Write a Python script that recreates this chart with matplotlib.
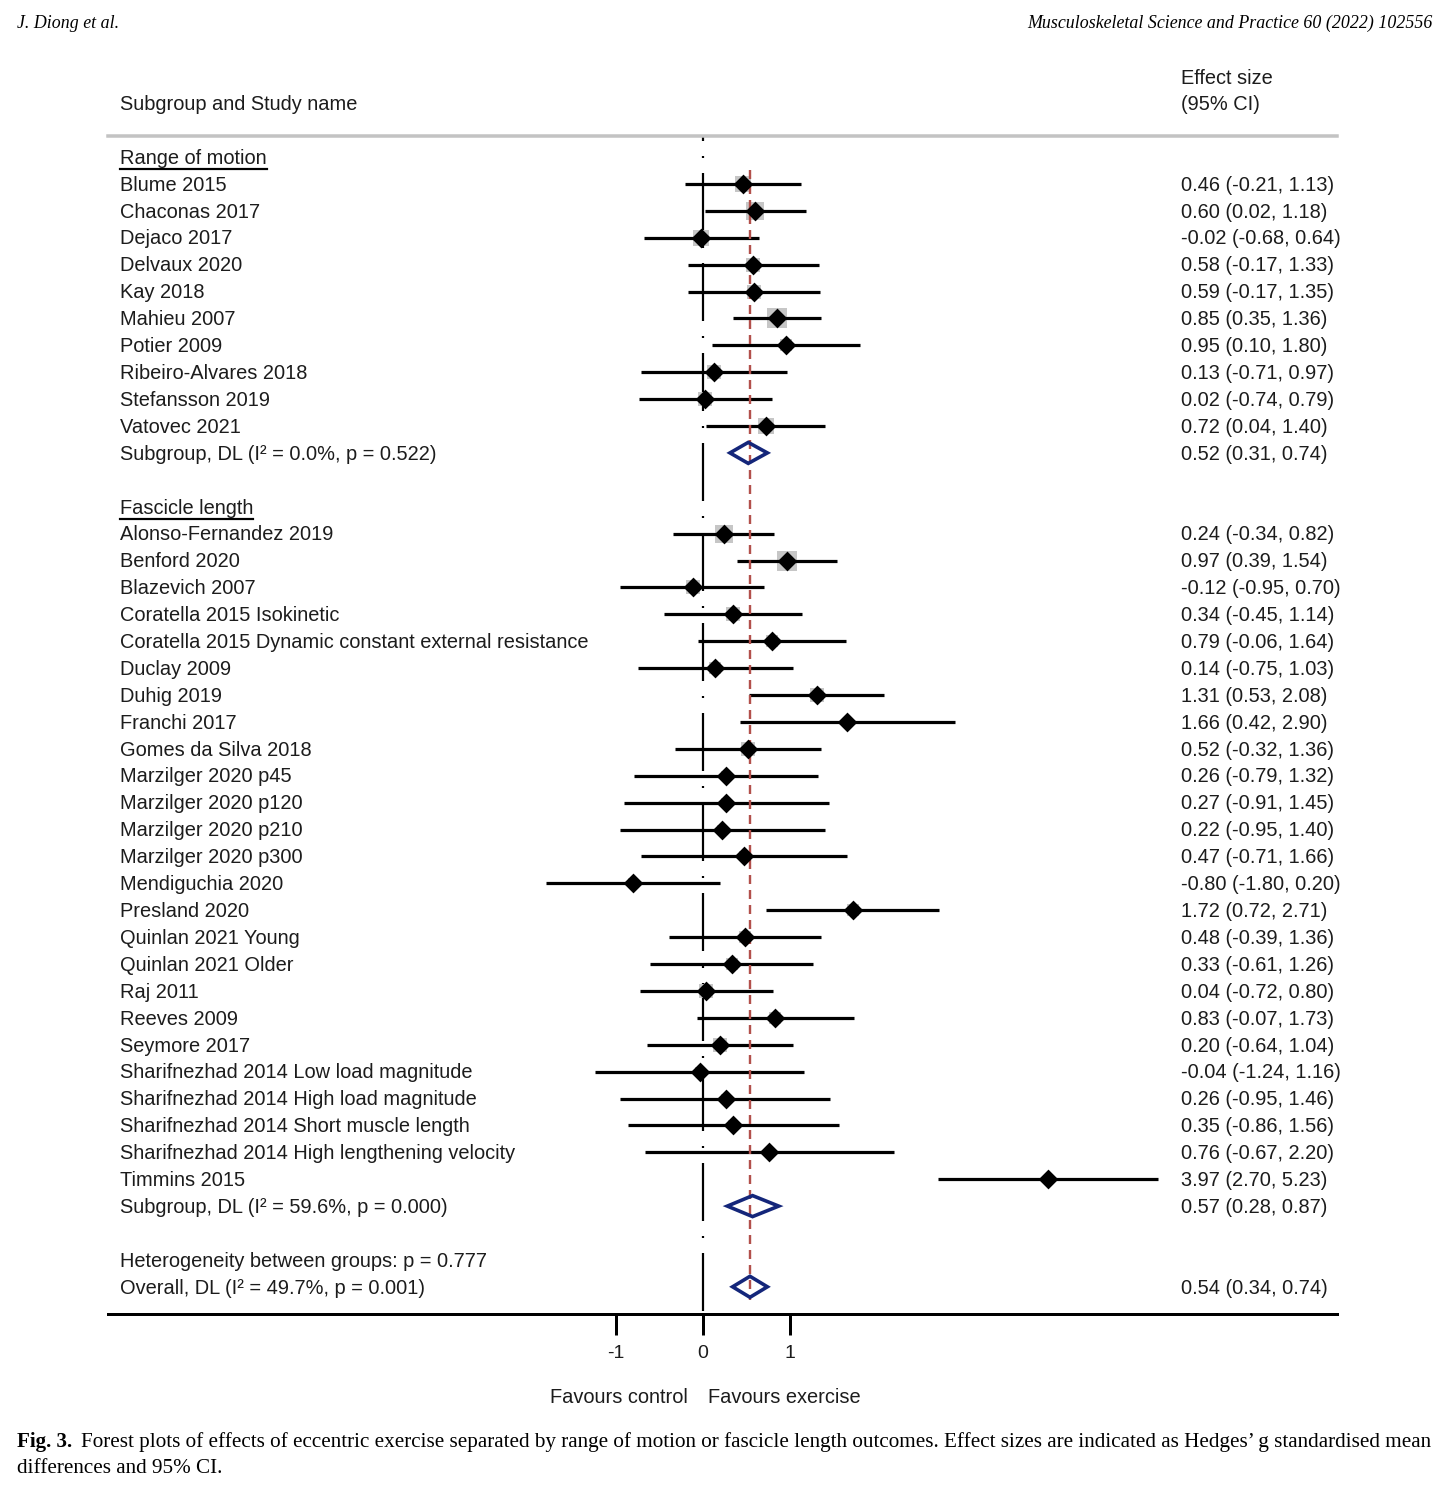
import matplotlib
matplotlib.use("Agg")
import matplotlib.pyplot as plt
import matplotlib.transforms as mtransforms
from matplotlib.patches import Polygon
from matplotlib.lines import Line2D

plt.rcParams['lines.scale_dashes'] = False
plt.rcParams['font.family'] = ['Liberation Sans', 'DejaVu Sans']

# ---------------- data ----------------
rom_names = ["Blume 2015", "Chaconas 2017", "Dejaco 2017", "Delvaux 2020", "Kay 2018",
             "Mahieu 2007", "Potier 2009", "Ribeiro-Alvares 2018", "Stefansson 2019",
             "Vatovec 2021"]
rom_es = [0.46, 0.60, -0.02, 0.58, 0.59, 0.85, 0.95, 0.13, 0.02, 0.72]
rom_lo = [-0.21, 0.02, -0.68, -0.17, -0.17, 0.35, 0.10, -0.71, -0.74, 0.04]
rom_hi = [1.13, 1.18, 0.64, 1.33, 1.35, 1.36, 1.80, 0.97, 0.79, 1.40]
rom_pooled = [0.52, 0.31, 0.74]
rom_pooled_label = "Subgroup, DL (I\u00b2 = 0.0%, p = 0.522)"

fl_names = ["Alonso-Fernandez 2019", "Benford 2020", "Blazevich 2007",
            "Coratella 2015 Isokinetic",
            "Coratella 2015 Dynamic constant external resistance", "Duclay 2009",
            "Duhig 2019", "Franchi 2017", "Gomes da Silva 2018", "Marzilger 2020 p45",
            "Marzilger 2020 p120", "Marzilger 2020 p210", "Marzilger 2020 p300",
            "Mendiguchia 2020", "Presland 2020", "Quinlan 2021 Young",
            "Quinlan 2021 Older", "Raj 2011", "Reeves 2009", "Seymore 2017",
            "Sharifnezhad 2014 Low load magnitude", "Sharifnezhad 2014 High load magnitude",
            "Sharifnezhad 2014 Short muscle length",
            "Sharifnezhad 2014 High lengthening velocity", "Timmins 2015"]
fl_es = [0.24, 0.97, -0.12, 0.34, 0.79, 0.14, 1.31, 1.66, 0.52, 0.26, 0.27, 0.22, 0.47,
         -0.80, 1.72, 0.48, 0.33, 0.04, 0.83, 0.20, -0.04, 0.26, 0.35, 0.76, 3.97]
fl_lo = [-0.34, 0.39, -0.95, -0.45, -0.06, -0.75, 0.53, 0.42, -0.32, -0.79, -0.91, -0.95,
         -0.71, -1.80, 0.72, -0.39, -0.61, -0.72, -0.07, -0.64, -1.24, -0.95, -0.86,
         -0.67, 2.70]
fl_hi = [0.82, 1.54, 0.70, 1.14, 1.64, 1.03, 2.08, 2.90, 1.36, 1.32, 1.45, 1.40, 1.66,
         0.20, 2.71, 1.36, 1.26, 0.80, 1.73, 1.04, 1.16, 1.46, 1.56, 2.20, 5.23]
fl_pooled = [0.57, 0.28, 0.87]
fl_pooled_label = "Subgroup, DL (I\u00b2 = 59.6%, p = 0.000)"

overall = [0.54, 0.34, 0.74]
overall_label = "Overall, DL (I\u00b2 = 49.7%, p = 0.001)"
het_between_label = "Heterogeneity between groups: p = 0.777"

group_titles = ["Range of motion", "Fascicle length"]
xticks = [-1, 0, 1]
xticklabels = ["-1", "0", "1"]
col_left_title = "Subgroup and Study name"
col_right_title = ["Effect size", "(95% CI)"]
favours = ["Favours control", "Favours exercise"]
header_left = "J. Diong et al."
header_right = "Musculoskeletal Science and Practice 60 (2022) 102556"
caption_bold = "Fig. 3."
caption_l1 = ("Forest plots of effects of eccentric exercise separated by range of motion or "
              "fascicle length outcomes. Effect sizes are indicated as Hedges\u2019 g standardised mean")
caption_l2 = "differences and 95% CI."

# ---------------- styles / layout ----------------
W, H, DPI = 1450, 1486, 100
PX = 72.0 / DPI                     # points per pixel
TXT = '#1c1c1c'
NAVY = '#14267a'
RED = '#b2504b'
GREY_BOX = '#c6c6c6'
BODY_FS = 20 * PX

ax_left, ax_right, ax_top, ax_bot = 108, 1337, 136, 1314
x0_px, unit_px = 703, 87.0
row0_px, row_px = 157, 26.9
name_x, es_x = 120, 1181
base_off = 6.8 / row_px            # baseline below row centre

fig = plt.figure(figsize=(W / DPI, H / DPI), dpi=DPI)
fig.patch.set_facecolor('white')
ax = fig.add_axes([ax_left / W, 1 - ax_bot / H, (ax_right - ax_left) / W, (ax_bot - ax_top) / H])
ax.set_xlim((ax_left - x0_px) / unit_px, (ax_right - x0_px) / unit_px)
y_bottom = (ax_bot - row0_px) / row_px
y_top = (ax_top - row0_px) / row_px
ax.set_ylim(y_bottom, y_top)

# rows
rows = []
rows.append(('head', group_titles[0]))
for n, e, l, h in zip(rom_names, rom_es, rom_lo, rom_hi):
    rows.append(('study', n, e, l, h))
rows.append(('pooled', rom_pooled_label, *rom_pooled))
rows.append(('blank',))
rows.append(('head', group_titles[1]))
for n, e, l, h in zip(fl_names, fl_es, fl_lo, fl_hi):
    rows.append(('study', n, e, l, h))
rows.append(('pooled', fl_pooled_label, *fl_pooled))
rows.append(('blank',))
rows.append(('text', het_between_label))
rows.append(('pooled', overall_label, *overall))

tr_text = mtransforms.blended_transform_factory(fig.transFigure, ax.transData)

# null line (dash-dot pattern)
on, off, dot = 58 * PX, 15 * PX, 2 * PX
ax.plot([0, 0], [y_top, y_bottom], color='black', lw=2.2 * PX,
        linestyle=(53 * PX, (on, off, dot, off)), zorder=1, solid_capstyle='butt',
        dash_capstyle='butt')

# overall effect line
ax.plot([overall[0], overall[0]], [0.5, len(rows) - 0.5], color=RED, lw=2.4 * PX,
        linestyle=(0, (9 * PX, 6 * PX)), zorder=4)

fig.canvas.draw()
renderer = fig.canvas.get_renderer()

for i, r in enumerate(rows):
    kind = r[0]
    if kind == 'blank':
        continue
    t = ax.text(name_x / W, i + base_off, r[1], transform=tr_text, fontsize=BODY_FS,
                color=TXT, ha='left', va='baseline', clip_on=False)
    if kind == 'head':
        bb = t.get_window_extent(renderer)
        yd = ax.transData.transform((0, i + 12 / row_px))[1]
        fig.add_artist(Line2D([bb.x0, bb.x1], [yd, yd], transform=mtransforms.IdentityTransform(),
                              color='black', lw=2.2 * PX))
        continue
    if kind == 'text':
        continue
    e, lo, hi = r[2], r[3], r[4]
    ax.text(es_x / W, i + base_off, f"{e:.2f} ({lo:.2f}, {hi:.2f})", transform=tr_text,
            fontsize=BODY_FS, color=TXT, ha='left', va='baseline', clip_on=False)
    if kind == 'study':
        se = (hi - lo) / 3.92
        side = min(5.6 / se, 20) * PX
        ax.scatter([e], [i], marker='s', s=side ** 2, color=GREY_BOX, linewidths=0, zorder=2)
        ax.plot([lo, hi], [i, i], color='black', lw=3.2 * PX, solid_capstyle='butt', zorder=3)
        ax.scatter([e], [i], marker='D', s=(14 * PX) ** 2, color='black',
                   linewidths=0, zorder=5)
    else:
        hh = 10.5 / row_px
        poly = Polygon([(lo, i), (e, i - hh), (hi, i), (e, i + hh)], closed=True, fill=False,
                       edgecolor=NAVY, lw=3.6 * PX, joinstyle='miter', zorder=6)
        ax.add_patch(poly)

# axes styling
for s in ['left', 'right']:
    ax.spines[s].set_visible(False)
ax.spines['bottom'].set_linewidth(3 * PX)
ax.spines['bottom'].set_color('black')
ax.spines['top'].set_linewidth(3.5 * PX)
ax.spines['top'].set_color('#c3c3c3')
ax.set_yticks([])
ax.set_xticks(xticks)
ax.set_xticklabels(xticklabels)
ax.tick_params(axis='x', direction='out', length=21 * PX, width=3 * PX, color='black',
               labelsize=19.5 * PX, labelcolor=TXT, pad=10 * PX, top=False)
ax.patch.set_alpha(0)

# favours labels
fav_tr = mtransforms.blended_transform_factory(ax.transData, fig.transFigure)
ax.annotate(favours[0], xy=(0, 1 - 1403 / H), xycoords=fav_tr, xytext=(-15 * PX, 0),
            textcoords='offset points', ha='right', va='baseline', fontsize=BODY_FS, color=TXT,
            annotation_clip=False)
ax.annotate(favours[1], xy=(0, 1 - 1403 / H), xycoords=fav_tr, xytext=(5 * PX, 0),
            textcoords='offset points', ha='left', va='baseline', fontsize=BODY_FS, color=TXT,
            annotation_clip=False)

# column titles
fig.text(name_x / W, 1 - 110 / H, col_left_title, fontsize=BODY_FS, color=TXT, va='baseline')
fig.text(es_x / W, 1 - 84 / H, col_right_title[0], fontsize=BODY_FS, color=TXT, va='baseline')
fig.text(es_x / W, 1 - 110 / H, col_right_title[1], fontsize=BODY_FS, color=TXT, va='baseline')

# serif header & caption, sizes fitted to the page widths
SERIF = ['Liberation Serif', 'DejaVu Serif']


def width_at(s, size, **kw):
    t = fig.text(0, 0, s, fontsize=size, family=SERIF, **kw)
    w = t.get_window_extent(renderer).width
    t.remove()
    return w


hl_fs = 12 * 102 / width_at(header_left, 12, style='italic')
hr_fs = 12 * 413 / width_at(header_right, 12, style='italic')
hfs = min(hl_fs, hr_fs)
fig.text(17 / W, 1 - 28 / H, header_left, fontsize=hfs, family=SERIF, style='italic',
         color='black', va='baseline')
fig.text(1433 / W, 1 - 28 / H, header_right, fontsize=hfs, family=SERIF, style='italic',
         color='black', va='baseline', ha='right')

gap = 9
tot = width_at(caption_bold, 12, weight='bold') + width_at(caption_l1, 12)
cfs = 12 * (1415 - gap) / tot
tb = fig.text(17 / W, 1 - 1447 / H, caption_bold, fontsize=cfs, family=SERIF, weight='bold',
              color='black', va='baseline')
bw = tb.get_window_extent(renderer).width
fig.text((17 + bw + gap) / W, 1 - 1447 / H, caption_l1, fontsize=cfs, family=SERIF,
         color='black', va='baseline')
fig.text(17 / W, 1 - 1473 / H, caption_l2, fontsize=cfs, family=SERIF, color='black',
         va='baseline')

fig.savefig('out.png', dpi=DPI, facecolor='white')
